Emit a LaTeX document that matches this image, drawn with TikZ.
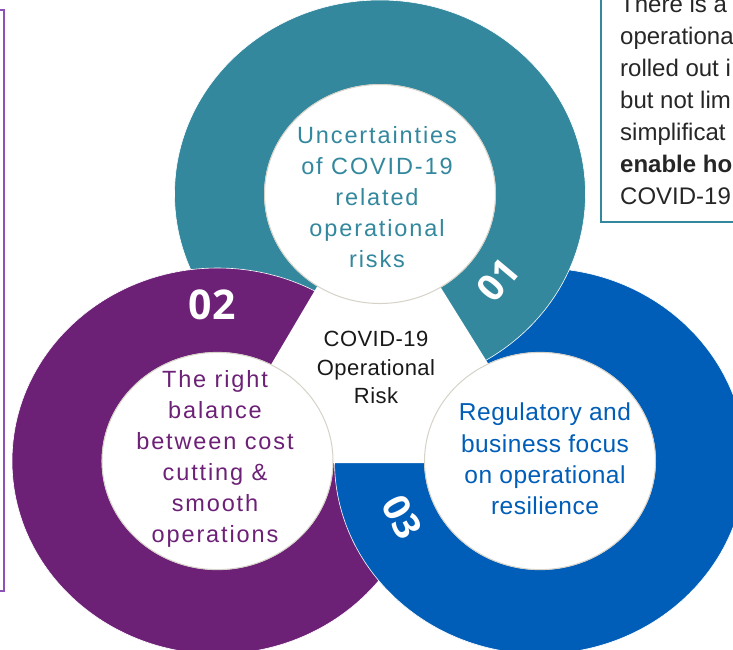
\documentclass[tikz,border=0pt]{standalone}
\usepackage{fontspec}
\setmainfont{Liberation Sans}
\newfontfamily\spaced{Liberation Sans}[LetterSpace=8]
\newfontfamily\plainface{Liberation Sans}[LetterSpace=2]
\newfontfamily\numfont{Open Sans}
\definecolor{ringteal}{RGB}{51,136,158}
\definecolor{ringpurple}{RGB}{108,32,118}
\definecolor{ringblue}{RGB}{0,94,184}
\definecolor{boxpurple}{RGB}{140,82,184}
\definecolor{rimgray}{RGB}{214,210,200}

\begin{document}
\begin{tikzpicture}[x=1pt, y=-1pt,
  ring/.style={fill=#1, draw=white, line width=0.6pt, even odd rule},
  hole/.style={fill=white, draw=rimgray, line width=1pt},
  ringtext/.style={text=#1, align=center, inner sep=0pt, font=\spaced\fontsize{23.5}{31}\selectfont},
  badge/.style={text=white, inner sep=0pt, font=\numfont\bfseries\fontsize{#1}{#1}\selectfont}]
  \useasboundingbox (0,0) rectangle (733,649);
  \clip (0,0) rectangle (733,649);

  % ring centres and the corners of the white middle
  \coordinate (tc) at (380,194);
  \coordinate (pc) at (217.5,461);
  \coordinate (bc) at (540,461);
  \coordinate (apex) at (377,185);
  \coordinate (lcorner) at (213,463);
  \coordinate (rcorner) at (550,463);

  % side frames
  \draw[boxpurple, line width=1.4pt] (-10,10) -- (4,10) -- (4,591) -- (-10,591);
  \draw[ringteal, line width=1.4pt] (601,-10) -- (601,222) -- (745,222);

  % rings: teal over blue, purple over teal, blue over purple
  \path[ring=ringblue] (bc) ellipse [x radius=205.5, y radius=193] (bc) ellipse [x radius=115.5, y radius=108.6];
  \path[ring=ringteal] (tc) ellipse [x radius=205.5, y radius=194] (tc) ellipse [x radius=115.5, y radius=109.5];
  \path[ring=ringpurple] (pc) ellipse [x radius=205.5, y radius=193] (pc) ellipse [x radius=115.5, y radius=108.6];
  \begin{scope}
    \clip (300,463) rectangle (540,660);
    \path[ring=ringblue] (bc) ellipse [x radius=205.5, y radius=193] (bc) ellipse [x radius=115.5, y radius=108.6];
  \end{scope}
  \fill[white] (apex) -- (lcorner) -- (rcorner) -- cycle;

  \path[hole] (tc) ellipse [x radius=115.5, y radius=109.5];
  \path[hole] (pc) ellipse [x radius=115.5, y radius=108.6];
  \path[hole] (bc) ellipse [x radius=115.5, y radius=108.6];

  \node[badge=41] (n02) at (212,305) {02};
  \node[badge=37, rotate=50] (n01) at (498,280) {01};
  \node[badge=37, rotate=-62] (n03) at (402,517) {03};

  \node[ringtext=ringteal] (tealtext) at (377,197) {Uncertainties\\of COVID-19\\related\\operational\\risks};
  \node[ringtext=ringpurple] (purpletext) at (215,458.5) {The right\\balance\\between cost\\cutting \&\\smooth\\operations};
  \node[ringtext=ringblue, font=\plainface\fontsize{24.5}{31.3}\selectfont] (bluetext) at (545,459) {Regulatory and\\business focus\\on operational\\resilience};
  \node[align=center, inner sep=0pt, text=black!90, font=\plainface\fontsize{22}{28.5}\selectfont] (hubtext) at (376,367.5) {COVID-19\\Operational\\Risk};

  \node[anchor=north west, align=left, inner sep=0pt, text=black!85, font=\fontsize{24}{32}\selectfont] (note) at (620,-5) {There is a\\operationa\\rolled out i\\but not lim\\simplificat\\\textbf{enable ho}\\COVID-19};
\end{tikzpicture}
\end{document}
